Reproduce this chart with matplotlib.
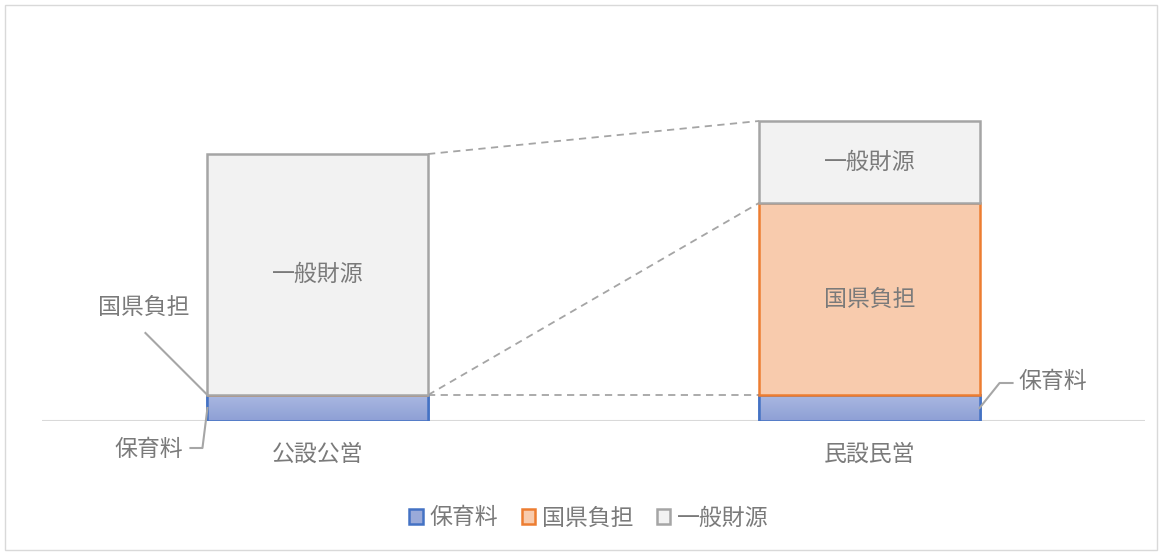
import numpy as np
import matplotlib.pyplot as plt
from matplotlib.patches import Patch, Rectangle
from matplotlib.colors import LinearSegmentedColormap

plt.rcParams['font.family'] = ['Noto Sans CJK JP', 'DejaVu Sans']

# data
categories = ['公設公営', '民設民営']
series = ['保育料', '国県負担', '一般財源']
hoikuryo = [26, 26]
kokken = [0, 192]
ippan = [241, 82]

face = ['#9AAAD9', '#F8CBAD', '#F2F2F2']
edge = ['#4472C4', '#ED7D31', '#A5A5A5']
txt = '#7A7A7A'
fs = 16.5

fig = plt.figure(figsize=(11.6, 5.54), dpi=100)
ax = fig.add_axes([42 / 1160, 133 / 554, 1103 / 1160, 400 / 554])
ax.set_xlim(-0.5, 1.5)
ax.set_ylim(0, 400)

# pixels per data unit, to place leader lines in pixel offsets
pos = ax.get_position()
sx = pos.width * fig.get_figwidth() * fig.dpi / 2.0
sy = pos.height * fig.get_figheight() * fig.dpi / 400.0

x = np.arange(len(categories))
w = 0.4
vals = [np.array(hoikuryo), np.array(kokken), np.array(ippan)]
bottom = np.zeros(len(categories))
tops = []
for i, v in enumerate(vals):
    bars = ax.bar(x, v, w, bottom=bottom, color=face[i], edgecolor=edge[i],
                  linewidth=1.8, zorder=2 + i)
    if i == 0:
        # gradient fill for 保育料
        cmap = LinearSegmentedColormap.from_list('g', ['#8E9FD5', '#A9B8E1'])
        for r in bars:
            im = ax.imshow(np.linspace(0, 1, 50).reshape(-1, 1), cmap=cmap,
                           extent=[r.get_x(), r.get_x() + r.get_width(),
                                   r.get_y(), r.get_y() + r.get_height()],
                           origin='lower', aspect='auto', zorder=2.1)
            im.set_clip_path(r)
            ax.add_patch(Rectangle((r.get_x(), r.get_y()), r.get_width(), r.get_height(),
                                   fill=False, edgecolor=edge[0], linewidth=1.8, zorder=2.2))
    bottom = bottom + v
    tops.append(bottom.copy())

# series lines
for t in tops:
    ax.plot([x[0] + w / 2, x[1] - w / 2], [t[0], t[1]], color='#A5A5A5',
            linewidth=1.3, dashes=(4, 3), zorder=1)

# inside labels
ax.text(x[0], hoikuryo[0] + kokken[0] + ippan[0] / 2, '一般財源', ha='center', va='center',
        color=txt, fontsize=fs, zorder=10)
ax.text(x[1], hoikuryo[1] + kokken[1] / 2, '国県負担', ha='center', va='center',
        color=txt, fontsize=fs, zorder=10)
ax.text(x[1], hoikuryo[1] + kokken[1] + ippan[1] / 2, '一般財源', ha='center', va='center',
        color=txt, fontsize=fs, zorder=10)


def leader(anchor, pts, label, toff, ha):
    xs = [anchor[0] + dx / sx for dx, dy in pts]
    ys = [anchor[1] + dy / sy for dx, dy in pts]
    ax.plot(xs, ys, color='#A6A6A6', linewidth=1.5, zorder=5, clip_on=False)
    ax.text(anchor[0] + toff[0] / sx, anchor[1] + toff[1] / sy, label, ha=ha, va='center',
            color=txt, fontsize=fs, clip_on=False)


leader((x[0] - w / 2, hoikuryo[0]), [(0, 0), (-62, 62)], '国県負担', (-64, 88), 'center')
leader((x[0] - w / 2, hoikuryo[0] / 2), [(0, 0), (-5, -40), (-17, -40)], '保育料', (-24, -41), 'right')
leader((x[1] + w / 2, hoikuryo[1] / 2), [(0, 0), (20, 25), (33, 25)], '保育料', (39, 26), 'left')

ax.axhline(0, color='#D9D9D9', linewidth=1.5, zorder=1)
ax.set_xticks(x)
ax.set_xticklabels(categories, color=txt, fontsize=fs)
ax.tick_params(length=0, pad=16)
ax.set_yticks([])
for s in ax.spines.values():
    s.set_visible(False)

handles = [Patch(facecolor=face[i], edgecolor=edge[i], linewidth=1.8) for i in range(3)]
fig.legend(handles, series, loc='center', bbox_to_anchor=(589 / 1160, 1 - 518 / 554), ncol=3,
           frameon=False, fontsize=fs, labelcolor=txt, handlelength=0.6, handleheight=0.6,
           handletextpad=0.3, columnspacing=1.0)

fig.patches.append(Rectangle((5 / 1160, 4 / 554), 1152 / 1160, 545 / 554, fill=False,
                             edgecolor='#D9D9D9', linewidth=1, transform=fig.transFigure))

fig.savefig('out.png', dpi=100)
